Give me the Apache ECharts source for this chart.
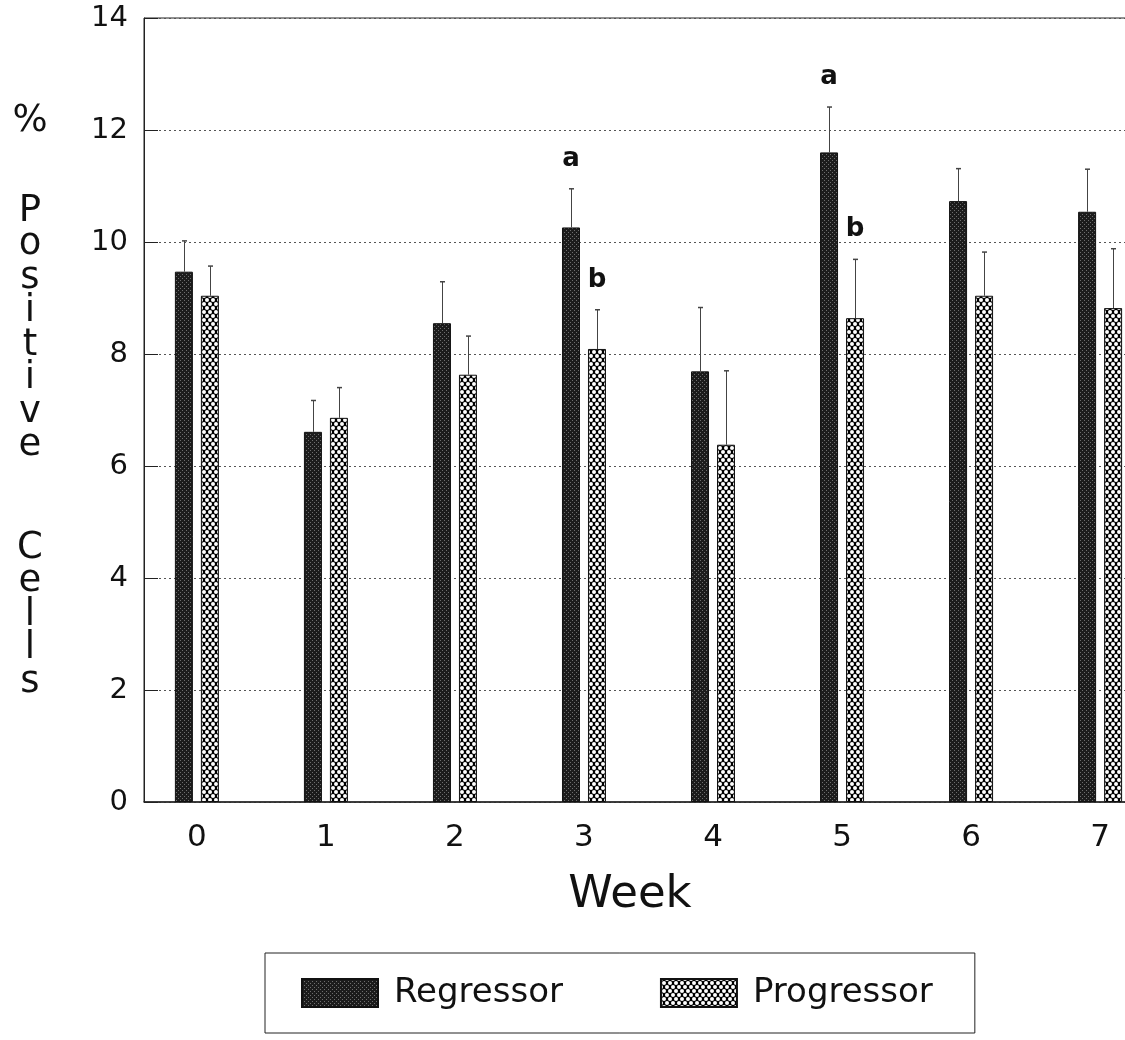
<!DOCTYPE html>
<html>
<head>
<meta charset="utf-8">
<script src="https://cdn.jsdelivr.net/npm/echarts@6/dist/echarts.min.js"></script>
<style>
  html, body { margin: 0; padding: 0; background: #fff; }
  #chart { width: 1125px; height: 1040px; }
</style>
</head>
<body>
<div id="chart"></div>
<script>
// ---- data ----
const weeks = [0, 1, 2, 3, 4, 5, 6, 7];
const weekLabels = ['0', '1', '2', '3', '4', '5', '6', '7'];
const seriesNames = ['Regressor', 'Progressor'];
const regressorMean = [9.47, 6.61, 8.55, 10.26, 7.69, 11.60, 10.73, 10.54];
const regressorSem = [0.55, 0.56, 0.74, 0.69, 1.14, 0.81, 0.58, 0.76];
const progressorMean = [9.04, 6.86, 7.63, 8.09, 6.38, 8.64, 9.04, 8.82];
const progressorSem = [0.53, 0.54, 0.69, 0.70, 1.32, 1.05, 0.78, 1.06];
const yMin = 0, yMax = 14, yStep = 2;
// significance letters: week, group (0 = Regressor, 1 = Progressor), letter
const sigWeeks = [3, 3, 5, 5];
const sigGroups = [0, 1, 0, 1];
const sigLetters = ['a', 'b', 'a', 'b'];
// vertical axis title, one letter per line, in word groups
const yTitleGroups = [['%'], ['P', 'o', 's', 'i', 't', 'i', 'v', 'e'], ['C', 'e', 'l', 'l', 's']];
const xTitle = 'Week';

// ---- layout ----
const FONT = 'DejaVu Sans';
const BAR_W = 18, BAR_GAP = 8;
const barOffsets = [-(BAR_W + BAR_GAP) / 2, (BAR_W + BAR_GAP) / 2];
const means = [regressorMean, progressorMean];
const sems = [regressorSem, progressorSem];

// fill patterns
function makeTile(w, h, draw) {
  const c = document.createElement('canvas');
  c.width = w; c.height = h;
  draw(c.getContext('2d'));
  return c;
}
const stippleTile = makeTile(4, 4, ctx => {
  ctx.fillStyle = '#1c1c1c';
  ctx.fillRect(0, 0, 4, 4);
  ctx.fillStyle = '#6e6e6e';
  ctx.fillRect(0, 0, 1, 1);
  ctx.fillRect(2, 2, 1, 1);
});
const meshTile = makeTile(6, 8, ctx => {
  ctx.fillStyle = '#000';
  ctx.fillRect(0, 0, 6, 8);
  ctx.fillStyle = '#fff';
  [[0, 0], [6, 0], [0, 8], [6, 8], [3, 4]].forEach(([x, y]) => {
    ctx.beginPath();
    ctx.arc(x, y, 2.0, 0, Math.PI * 2);
    ctx.fill();
  });
});
const fills = [
  { image: stippleTile, repeat: 'repeat' },
  { image: meshTile, repeat: 'repeat' }
];

function barSeries(g) {
  return {
    name: seriesNames[g],
    type: 'bar',
    barWidth: BAR_W,
    barGap: (BAR_GAP / BAR_W * 100).toFixed(1) + '%',
    itemStyle: { color: fills[g], borderColor: '#111', borderWidth: 1 },
    z: 2,
    data: weeks.map((w, i) => [w, means[g][i]])
  };
}

function errorSeries(g) {
  return {
    type: 'custom',
    silent: true,
    z: 3,
    data: weeks.map((w, i) => [w, means[g][i], means[g][i] + sems[g][i]]),
    encode: { x: 0, y: 2 },
    renderItem(params, api) {
      const base = api.coord([api.value(0), api.value(1)]);
      const top = api.coord([api.value(0), api.value(2)]);
      const x = Math.round(base[0] + barOffsets[g]) + 0.5;
      return {
        type: 'group',
        children: [
          { type: 'line', shape: { x1: x, y1: base[1], x2: x, y2: top[1] }, style: { stroke: '#444', lineWidth: 1 } },
          { type: 'line', shape: { x1: x - 2.5, y1: top[1], x2: x + 2.5, y2: top[1] }, style: { stroke: '#444', lineWidth: 1.5 } }
        ]
      };
    }
  };
}

const letterSeries = {
  type: 'custom',
  silent: true,
  z: 4,
  data: sigWeeks.map((w, k) => [w, means[sigGroups[k]][w] + sems[sigGroups[k]][w]]),
  renderItem(params, api) {
    const k = params.dataIndex;
    const p = api.coord([api.value(0), api.value(1)]);
    return {
      type: 'text',
      x: p[0] + barOffsets[sigGroups[k]],
      y: p[1] - 30,
      style: {
        text: sigLetters[k], fill: '#111',
        font: 'bold 26px "' + FONT + '"',
        align: 'center', verticalAlign: 'middle'
      }
    };
  }
};

// vertical axis title letters
const titleStarts = [121, 211, 548];
const LETTER_STEP = 33.5;
const titleGraphics = [];
yTitleGroups.forEach((grp, gi) => {
  grp.forEach((ch, li) => {
    titleGraphics.push({
      type: 'text',
      x: 30, y: titleStarts[gi] + li * LETTER_STEP,
      style: {
        text: ch, fill: '#111', font: '37px "' + FONT + '"',
        align: 'center', verticalAlign: 'middle'
      }
    });
  });
});
titleGraphics.push({
  type: 'text', x: 630, y: 895,
  style: { text: xTitle, fill: '#111', font: '45px "' + FONT + '"', align: 'center', verticalAlign: 'middle' }
});

const chart = echarts.init(document.getElementById('chart'), null, { renderer: 'canvas' });
chart.setOption({
  animation: false,
  backgroundColor: '#fff',
  textStyle: { fontFamily: FONT },
  grid: {
    left: 144, top: 18, bottom: 238, right: -28,
    show: true, borderColor: '#222', borderWidth: 1,
    outerBoundsMode: 'none'
  },
  xAxis: {
    type: 'value',
    min: -0.41, max: 7.41,
    axisLine: { show: true, onZero: false, lineStyle: { color: '#222', width: 1.5 } },
    axisTick: { show: false },
    splitLine: { show: false },
    axisLabel: {
      customValues: weeks,
      formatter: v => weekLabels[weeks.indexOf(v)],
      fontSize: 31, color: '#111', margin: 20, fontFamily: FONT
    }
  },
  yAxis: {
    type: 'value',
    min: yMin, max: yMax, interval: yStep,
    axisLine: { show: true, onZero: false, lineStyle: { color: '#222', width: 1 } },
    axisTick: { show: true, inside: true, length: 14, lineStyle: { color: '#222' } },
    splitLine: { show: true, lineStyle: { color: '#555', type: [2, 3], width: 1 } },
    axisLabel: { fontSize: 29, color: '#111', margin: 16, fontFamily: FONT }
  },
  legend: {
    data: seriesNames,
    left: 265, top: 953,
    orient: 'horizontal',
    icon: 'rect',
    itemWidth: 76, itemHeight: 28, itemGap: 97,
    padding: [23, 42, 23, 36],
    borderColor: '#222', borderWidth: 1,
    selectedMode: false,
    textStyle: { fontFamily: FONT, fontSize: 34, color: '#111', padding: [0, 0, 0, 11] }
  },
  graphic: titleGraphics,
  series: [barSeries(0), barSeries(1), errorSeries(0), errorSeries(1), letterSeries]
});
</script>
</body>
</html>
